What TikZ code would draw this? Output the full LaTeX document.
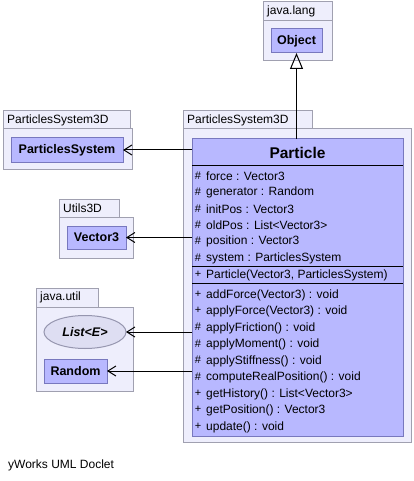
\documentclass[tikz,border=0pt]{standalone}
\usepackage{fontspec}
\setmainfont{Liberation Sans}
\usetikzlibrary{arrows.meta,shapes.geometric}
\definecolor{pkgfill}{RGB}{238,238,252}
\definecolor{pkgline}{RGB}{160,160,176}
\definecolor{clsfill}{RGB}{184,184,255}
\definecolor{clsline}{RGB}{120,120,190}
\definecolor{ifill}{RGB}{222,222,242}
\definecolor{iline}{RGB}{150,150,175}
\tikzset{
  pkgbox/.style={draw=pkgline, fill=pkgfill, line width=1pt, inner sep=0pt, outer sep=0pt},
  pkglabel/.style={anchor=west, inner sep=0pt, font=\fontsize{12}{14}\selectfont},
  clsbox/.style={draw=clsline, fill=clsfill, line width=1pt, inner sep=0pt, outer sep=0pt, font=\fontsize{12.5}{14}\selectfont\bfseries},
  ifcbox/.style={ellipse, draw=iline, fill=ifill, line width=1pt, inner sep=0pt, outer sep=0pt, font=\fontsize{12.5}{14}\selectfont\bfseries\itshape},
  member/.style={anchor=west, inner sep=0pt, font=\fontsize{12}{14}\selectfont},
  vis/.style={inner sep=0pt, font=\fontsize{11}{13}\selectfont},
  sepline/.style={line width=1pt, black},
  dep/.style={line width=1pt, -{Straight Barb[length=8pt,width=10pt,line width=1pt]}},
  gen/.style={line width=1pt, -{Triangle[open,length=16pt,width=13pt,line width=1pt]}}
}
\begin{document}
\begin{tikzpicture}[x=1pt,y=-1pt]
\useasboundingbox (0,0) rectangle (413,481);

% packages
\node[pkgbox, minimum width=69, minimum height=19] (langtab) at (297.5,11.5) {};
\node[pkgbox, minimum width=69, minimum height=40] (langbody) at (297.5,41) {};
\node[pkglabel] (langlbl) at (267,11.5) {java.lang};

\node[pkgbox, minimum width=127, minimum height=18] (ps3dAtab) at (66.5,120) {};
\node[pkgbox, minimum width=129, minimum height=40] (ps3dAbody) at (67.5,149) {};
\node[pkglabel] (ps3dAlbl) at (7,120) {ParticlesSystem3D};

\node[pkgbox, minimum width=129, minimum height=18] (ps3dBtab) at (247.5,120) {};
\node[pkgbox, minimum width=228, minimum height=313] (ps3dBbody) at (297,285.5) {};
\node[pkglabel] (ps3dBlbl) at (187,120) {ParticlesSystem3D};

\node[pkgbox, minimum width=60, minimum height=18] (utiltab) at (89,208) {};
\node[pkgbox, minimum width=74, minimum height=41] (utilbody) at (96,237.5) {};
\node[pkglabel] (utillbl) at (63,208) {Utils3D};

\node[pkgbox, minimum width=62, minimum height=19] (jutab) at (67,297.5) {};
\node[pkgbox, minimum width=97, minimum height=84] (jubody) at (84.5,349) {};
\node[pkglabel] (julbl) at (40,297.5) {java.util};

% classes
\node[clsbox, minimum width=51, minimum height=24] (Object) at (296.5,41) {Object};
\node[clsbox, minimum width=112, minimum height=24] (PS) at (67,150) {ParticlesSystem};
\node[clsbox, minimum width=59, minimum height=23] (Vec) at (96.5,237.5) {Vector3};
\node[ifcbox, minimum width=82, minimum height=33] (List) at (85,332) {List<E>};
\node[clsbox, minimum width=63, minimum height=24] (Random) at (75.5,371) {Random};

\node[clsbox, minimum width=211, minimum height=297] (Particle) at (297.5,287.5) {};
\node[inner sep=0pt, font=\fontsize{15.5}{17}\selectfont\bfseries] (ptitle) at (297.5,152.5) {Particle};
\draw[sepline] (Particle.west |- 0,165) -- (Particle.east |- 0,165);
\draw[sepline] (Particle.west |- 0,266) -- (Particle.east |- 0,266);
\draw[sepline] (Particle.west |- 0,283) -- (Particle.east |- 0,283);

% attributes
\foreach \i/\t in {0/{force : Vector3},1/{generator : Random},2/{initPos : Vector3},3/{oldPos : List<Vector3>},4/{position : Vector3},5/{system : ParticlesSystem}}{
  \node[vis] (va\i) at (198,{175.5+16.4*\i}) {\#};
  \node[member] (ma\i) at (206,{176+16.4*\i}) {\t};
}
% constructor
\node[vis] (vc) at (198,274) {+};
\node[member] (mc) at (206,275) {Particle(Vector3, ParticlesSystem)};
% methods
\foreach \i/\v/\t in {0/+/{addForce(Vector3) : void},1/+/{applyForce(Vector3) : void},2/\#/{applyFriction() : void},3/\#/{applyMoment() : void},4/\#/{applyStiffness() : void},5/\#/{computeRealPosition() : void},6/+/{getHistory() : List<Vector3>},7/+/{getPosition() : Vector3},8/+/{update() : void}}{
  \node[vis] (vm\i) at (198,{294+16.5*\i}) {\v};
  \node[member] (mm\i) at (206,{295+16.5*\i}) {\t};
}

% connectors
\draw[gen] (Particle.north -| Object.south) -- (Object.south);
\draw[dep] (Particle.west |- PS.east) -- (PS.east);
\draw[dep] (Particle.west |- Vec.east) -- (Vec.east);
\draw[dep] (Particle.west |- List.east) -- (List.east);
\draw[dep] (Particle.west |- Random.east) -- (Random.east);

\node[anchor=west, inner sep=0pt, font=\fontsize{12}{14}\selectfont] (doclet) at (8,465) {yWorks UML Doclet};
\end{tikzpicture}
\end{document}
